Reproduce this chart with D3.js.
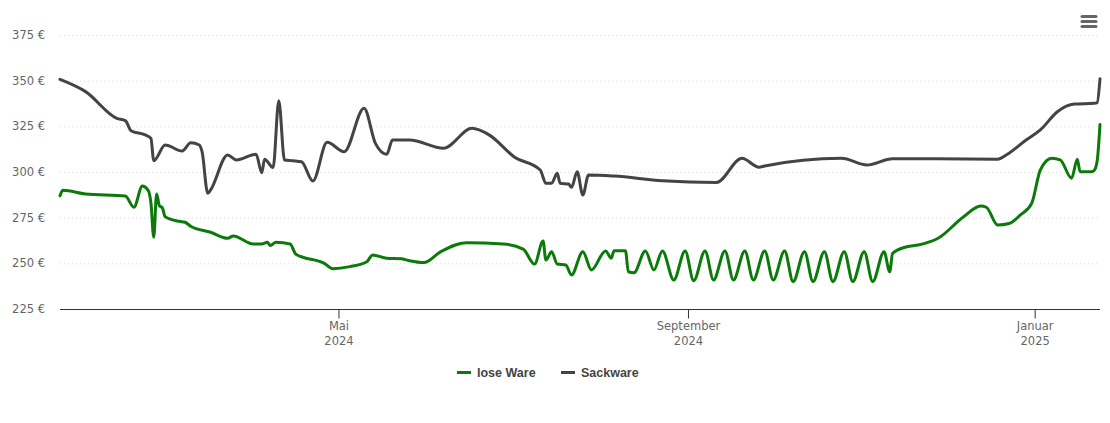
<!DOCTYPE html>
<html>
<head>
<meta charset="utf-8">
<script src="https://cdn.jsdelivr.net/npm/d3@7"></script>
<style>
  html, body { margin: 0; padding: 0; background: #fff; }
  svg { display: block; font-family: "DejaVu Sans", Verdana, sans-serif; }
</style>
</head>
<body>
<svg id="chart" width="1110" height="423"></svg>
<script>
// ---- data ----
const seriesNames = ["lose Ware", "Sackware"];
const seriesColors = ["#0b7a0b", "#434348"];

const loseWare = [
  ["2024-01-24",287],["2024-01-25",290],["2024-02-02",288],["2024-02-16",286.9],
  ["2024-02-19",280.7],["2024-02-22",292.3],["2024-02-24",290],["2024-02-25",283],
  ["2024-02-26",264.3],["2024-02-27",288],["2024-02-28",281.5],["2024-02-29",280.5],
  ["2024-03-01",275.5],["2024-03-06",273],["2024-03-08",272.5],["2024-03-10",270.3],
  ["2024-03-17",267],["2024-03-23",263.7],["2024-03-25",265],["2024-04-01",260.6],
  ["2024-04-04",260.6],["2024-04-06",261.5],["2024-04-07",259.7],["2024-04-09",261.5],
  ["2024-04-14",260.6],["2024-04-16",255],["2024-04-26",250],["2024-04-29",247.1],
  ["2024-05-05",248.2],["2024-05-11",250.9],["2024-05-13",254.6],["2024-05-18",252.8],
  ["2024-05-23",252.5],["2024-05-26",251.4],["2024-05-31",250.4],["2024-06-06",256.4],
  ["2024-06-15",261.3],["2024-06-28",260.6],["2024-07-05",257.8],["2024-07-09",249.6],
  ["2024-07-12",262.2],["2024-07-13",251.8],["2024-07-15",256.4],["2024-07-17",249.6],
  ["2024-07-20",249.1],["2024-07-22",243.6],["2024-07-26",256.4],["2024-07-29",246.4],
  ["2024-08-03",256.8],["2024-08-05",252.8],["2024-08-06",256.9],["2024-08-10",256.9],
  ["2024-08-11",245.4],["2024-08-13",244.9],["2024-08-17",256.8],["2024-08-20",246.4],
  ["2024-08-23",256.8],["2024-08-27",240.9],["2024-08-31",256.8],["2024-09-03",240.5],
  ["2024-09-07",256.8],["2024-09-10",240.9],["2024-09-14",256.8],["2024-09-17",240.9],
  ["2024-09-21",256.8],["2024-09-24",240.9],["2024-09-28",256.8],["2024-10-01",240.9],
  ["2024-10-05",256.8],["2024-10-08",240],["2024-10-12",256.4],["2024-10-15",240],
  ["2024-10-19",256.4],["2024-10-22",240],["2024-10-26",256.4],["2024-10-29",240],
  ["2024-11-02",256.4],["2024-11-05",240],["2024-11-09",256.4],["2024-11-11",245.4],
  ["2024-11-12",255.5],["2024-11-17",259.1],["2024-11-21",260],["2024-11-28",263.7],
  ["2024-12-07",275.5],["2024-12-13",281.4],["2024-12-15",280.7],["2024-12-19",271],
  ["2024-12-23",271.8],["2024-12-27",276.5],["2024-12-31",283],["2025-01-03",301.1],
  ["2025-01-07",307.5],["2025-01-10",306.6],["2025-01-14",296.6],["2025-01-16",307],
  ["2025-01-17",300.2],["2025-01-21",300.2],["2025-01-22",301],["2025-01-23",306],
  ["2025-01-24",326]
];

const sackware = [
  ["2024-01-24",350.7],["2024-02-02",344],["2024-02-13",329.4],["2024-02-16",328.1],
  ["2024-02-18",322.6],["2024-02-23",320.3],["2024-02-25",318.4],["2024-02-26",306.2],
  ["2024-03-01",314.8],["2024-03-07",311.5],["2024-03-10",316],["2024-03-13",314.8],
  ["2024-03-14",311.1],["2024-03-16",288.3],["2024-03-17",290.2],["2024-03-23",309.3],
  ["2024-03-26",306.6],["2024-04-02",309.7],["2024-04-04",299.6],["2024-04-05",307],
  ["2024-04-08",302.4],["2024-04-10",339],["2024-04-12",306.6],["2024-04-15",306.2],
  ["2024-04-18",305.6],["2024-04-22",295.1],["2024-04-27",316.3],["2024-05-03",311.1],
  ["2024-05-10",334.9],["2024-05-14",315.7],["2024-05-18",309.7],["2024-05-20",317.5],
  ["2024-05-26",317.5],["2024-06-07",313],["2024-06-17",323.9],["2024-06-23",320.3],
  ["2024-07-02",308.1],["2024-07-11",301.1],["2024-07-13",293.8],["2024-07-15",293.8],
  ["2024-07-17",299.3],["2024-07-18",293.8],["2024-07-21",293.4],["2024-07-22",291.6],
  ["2024-07-24",300.1],["2024-07-26",287.4],["2024-07-28",298.4],["2024-08-06",297.8],
  ["2024-08-23",295.2],["2024-09-11",294.2],["2024-09-20",307.5],["2024-09-26",302.6],
  ["2024-09-28",303.3],["2024-10-25",307.5],["2024-11-03",303.8],["2024-11-12",307.3],
  ["2024-11-27",307.3],["2024-12-19",307],["2024-12-22",309.3],["2024-12-29",317.5],
  ["2025-01-03",323],["2025-01-09",333],["2025-01-15",337.2],["2025-01-22",337.6],
  ["2025-01-23",338],["2025-01-24",351]
];

const yTicks = [225, 250, 275, 300, 325, 350, 375];
const xTickDates = ["2024-05-01", "2024-09-01", "2025-01-01"];
const xTickLabels = [["Mai", "2024"], ["September", "2024"], ["Januar", "2025"]];
const xDomain = ["2024-01-24", "2025-01-24"];

// ---- chart ----
const parse = d3.utcParse("%Y-%m-%d");
const svg = d3.select("#chart");
const plotLeft = 60, plotRight = 1100, plotTop = 35, plotBottom = 309;

const x = d3.scaleUtc().domain(xDomain.map(parse)).range([plotLeft, plotRight]);
const y = d3.scaleLinear().domain([225, 375]).range([plotBottom, plotTop]);

svg.append("rect").attr("width", 1110).attr("height", 423).attr("fill", "#fff");

// grid
svg.append("g").selectAll("line").data(yTicks.filter(v => v !== 225)).join("line")
  .attr("x1", plotLeft).attr("x2", plotRight)
  .attr("y1", d => y(d) + 0.5).attr("y2", d => y(d) + 0.5)
  .attr("stroke", "#dcdcdc").attr("stroke-width", 1).attr("stroke-dasharray", "1,3");

// y labels
svg.append("g").selectAll("text").data(yTicks).join("text")
  .attr("x", 45).attr("y", d => y(d) + 4)
  .attr("text-anchor", "end").attr("font-size", 11.5).attr("fill", "#666")
  .text(d => d + " €");

// x axis
const xAxis = d3.axisBottom(x)
  .tickValues(xTickDates.map(parse))
  .tickSize(9)
  .tickFormat(() => "");
const gx = svg.append("g").attr("transform", `translate(0,${plotBottom + 0.5})`).call(xAxis);
gx.select(".domain").attr("stroke", "#333").attr("d", `M${plotLeft},0H${plotRight}`);
gx.selectAll(".tick line").attr("stroke", "#333");
gx.selectAll(".tick").each(function(d, i) {
  const t = d3.select(this);
  xTickLabels[i].forEach((s, j) => {
    t.append("text").attr("x", 0).attr("y", 20 + j * 15)
      .attr("text-anchor", "middle").attr("font-size", 11.5).attr("fill", "#666")
      .attr("font-family", '"DejaVu Sans", Verdana, sans-serif')
      .text(s);
  });
});

// lines
const line = d3.line()
  .x(d => x(parse(d[0])))
  .y(d => y(d[1]))
  .curve(d3.curveMonotoneX);

[loseWare, sackware].forEach((data, i) => {
  svg.append("path").datum(data)
    .attr("d", line)
    .attr("fill", "none")
    .attr("stroke", seriesColors[i])
    .attr("stroke-width", 3)
    .attr("stroke-linejoin", "round")
    .attr("stroke-linecap", "round");
});

// legend
const legendX = [457, 561];
const lg = svg.append("g");
seriesNames.forEach((name, i) => {
  lg.append("line").attr("x1", legendX[i]).attr("x2", legendX[i] + 14)
    .attr("y1", 372.5).attr("y2", 372.5)
    .attr("stroke", seriesColors[i]).attr("stroke-width", 3);
  lg.append("text").attr("x", legendX[i] + 20).attr("y", 377)
    .attr("font-family", '"Liberation Sans", Arial, sans-serif')
    .attr("font-size", 12.5).attr("font-weight", "bold").attr("fill", "#444")
    .text(name);
});

// menu icon
const menu = svg.append("g");
[16, 21, 26].forEach(yy => {
  menu.append("line").attr("x1", 1082).attr("x2", 1096)
    .attr("y1", yy + 0.5).attr("y2", yy + 0.5)
    .attr("stroke", "#666").attr("stroke-width", 3).attr("stroke-linecap", "round");
});
</script>
</body>
</html>
